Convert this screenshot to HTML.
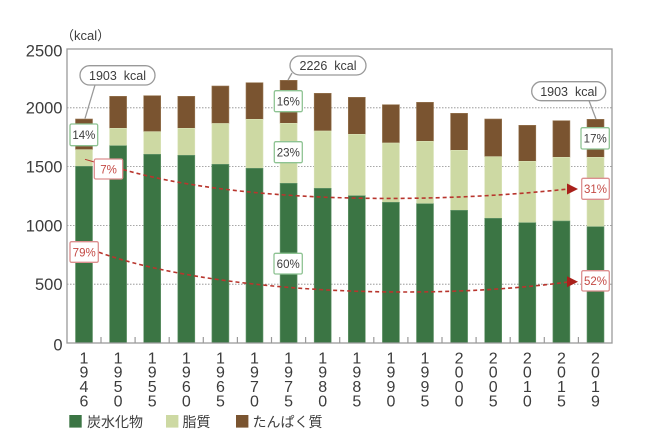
<!DOCTYPE html>
<html><head><meta charset="utf-8"><style>
html,body{margin:0;padding:0;background:#fff;}
svg{display:block;}
text{font-family:"Liberation Sans","Noto Sans CJK JP",sans-serif;fill:#3c3c3c;}
.pre{white-space:pre;}
</style></head><body>
<svg width="650" height="443" viewBox="0 0 650 443" xmlns="http://www.w3.org/2000/svg">
<!-- gridlines -->
<g stroke="#8a8a8a" stroke-width="0.8" stroke-dasharray="1.5 1.5">
<line x1="67" y1="107.8" x2="612" y2="107.8"/>
<line x1="67" y1="166.6" x2="612" y2="166.6"/>
<line x1="67" y1="225.4" x2="612" y2="225.4"/>
<line x1="67" y1="284.2" x2="612" y2="284.2"/>
</g>
<!-- bars -->
<g id="bars" stroke-width="0.6">
</g>
<!-- frame -->
<rect x="67" y="49" width="545" height="294" fill="none" stroke="#9a9a9a" stroke-width="1.3"/>
<g stroke="#9a9a9a" stroke-width="1.2" id="ticks"></g>
<!-- y labels -->
<g font-size="16.5" text-anchor="end">
<text x="62.5" y="56.5">2500</text>
<text x="62.5" y="113.5">2000</text>
<text x="62.5" y="172.5">1500</text>
<text x="62.5" y="231.5">1000</text>
<text x="62.5" y="290">500</text>
<text x="62.5" y="350.5">0</text>
</g>
<text x="61" y="40" font-size="13">（kcal）</text>
<g id="xl" font-size="16" text-anchor="middle"></g>
<!-- curves -->
<g fill="none" stroke="#b8352d" stroke-width="1.6" stroke-dasharray="4 3">
<path d="M123,169.5 C235,202 420,205 568,189"/>
<path d="M99,252.3 C210,292 420,302 568,282"/>
</g>
<line x1="85" y1="159.3" x2="94.3" y2="162" stroke="#b8352d" stroke-width="1"/>
<polygon points="578,189 567,183.5 567,194.5" fill="#a8201a"/>
<polygon points="578,281.7 567,276.2 567,287.2" fill="#a8201a"/>
<!-- callout bubbles -->
<g fill="#fff" stroke="#999" stroke-width="1.3">
<line x1="95" y1="85" x2="85" y2="118.5"/>
<line x1="589" y1="100.7" x2="596" y2="119"/>
<line x1="292" y1="73" x2="288" y2="80"/>
<rect x="80" y="65.7" width="75" height="19.3" rx="9.6"/>
<rect x="290" y="56" width="76" height="19" rx="9.5"/>
<rect x="531.7" y="81.7" width="74" height="19" rx="9.5"/>
</g>
<g font-size="12.5" text-anchor="middle">
<text class="pre" x="117.5" y="80">1903  kcal</text>
<text class="pre" x="328" y="70">2226  kcal</text>
<text class="pre" x="568.7" y="96">1903  kcal</text>
</g>
<!-- green boxes -->
<g fill="#fff" stroke="#8ec393" stroke-width="1.3">
<rect x="70" y="124" width="27.7" height="21.7" rx="1.5"/>
<rect x="274.3" y="90.7" width="28" height="21" rx="1.5"/>
<rect x="274.3" y="141.7" width="28" height="21" rx="1.5"/>
<rect x="274" y="253.3" width="28.3" height="20.7" rx="1.5"/>
<rect x="581" y="127.7" width="28.3" height="21.3" rx="1.5"/>
</g>
<g font-size="11.5" text-anchor="middle">
<text x="83.9" y="139">14%</text>
<text x="288.3" y="105.5">16%</text>
<text x="288.3" y="156.5">23%</text>
<text x="288.2" y="268">60%</text>
<text x="595.2" y="142.5">17%</text>
</g>
<!-- red boxes -->
<g fill="#fff" stroke="#dc8f8f" stroke-width="1.3">
<rect x="94.3" y="159" width="28.4" height="20" rx="1.5"/>
<rect x="70" y="241.7" width="28.3" height="20.6" rx="1.5"/>
<rect x="581.7" y="178.3" width="27.6" height="21" rx="1.5"/>
<rect x="581.7" y="270.7" width="27.6" height="20.3" rx="1.5"/>
</g>
<g font-size="11.5" text-anchor="middle">
<text x="108.5" y="173.5" style="fill:#c44a45">7%</text>
<text x="84.2" y="256.5" style="fill:#c44a45">79%</text>
<text x="595.5" y="193" style="fill:#c44a45">31%</text>
<text x="595.5" y="285" style="fill:#c44a45">52%</text>
</g>
<!-- legend -->
<rect x="69.3" y="415" width="12.4" height="12.6" fill="#3b7544"/>
<text x="87" y="427" font-size="14">炭水化物</text>
<rect x="166" y="415" width="12.4" height="12.6" fill="#cdd9a3"/>
<text x="182.5" y="427" font-size="14">脂質</text>
<rect x="236" y="415" width="12.4" height="12.6" fill="#7a5430"/>
<text x="252.5" y="427" font-size="14">たんぱく質</text>
<script>
(function(){
var ns="http://www.w3.org/2000/svg";
var d=[[119,149.7,166.3],[96.3,128.3,145.7],[95.7,131.7,154.3],[96.3,128.3,155.3],[86,123.5,164.3],[82.7,119.3,168.3],[80.3,123.3,183.3],[93.3,131,188.3],[97.3,134.3,195.7],[104.7,143,202.3],[102.3,141.3,203.7],[113.3,150.3,210.3],[119,156.7,218.3],[125.3,161.3,222.7],[120.7,157.3,221],[119.3,157.3,226.7]];
var yrs=["1946","1950","1955","1960","1965","1970","1975","1980","1985","1990","1995","2000","2005","2010","2015","2019"];
var g=document.getElementById("bars"),t=document.getElementById("ticks"),xl=document.getElementById("xl");
function r(x,y,w,h,f,s){var e=document.createElementNS(ns,"rect");e.setAttribute("x",x);e.setAttribute("y",y);e.setAttribute("width",w);e.setAttribute("height",h);e.setAttribute("fill",f);e.setAttribute("stroke",s);g.appendChild(e);}
for(var i=0;i<16;i++){
var x=75.5+34.1*i,b=d[i];
r(x,b[0],17,b[1]-b[0],"#7a5430","#9a7a56");
r(x,b[1],17,b[2]-b[1],"#cdd9a3","#dbe4bb");
r(x,b[2],17,343-b[2],"#3b7544","#6a9a70");
for(var k=0;k<4;k++){var tx=document.createElementNS(ns,"text");tx.setAttribute("x",x+8.5);tx.setAttribute("y",363.4+14.3*k);tx.textContent=yrs[i][k];xl.appendChild(tx);}
if(i<15){var l=document.createElementNS(ns,"line");var lx=101+34.1*i;l.setAttribute("x1",lx);l.setAttribute("x2",lx);l.setAttribute("y1",337);l.setAttribute("y2",343);t.appendChild(l);}
}
})();
</script>
</svg>
</body></html>
